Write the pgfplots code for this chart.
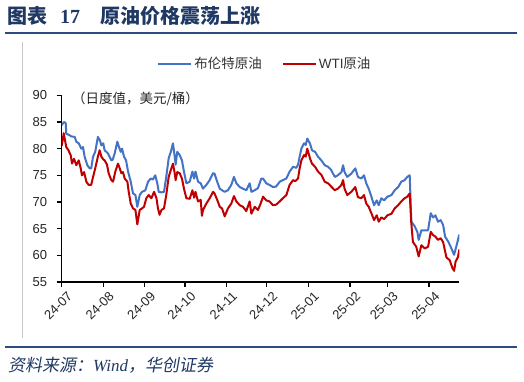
\documentclass[border=0pt]{standalone}
\usepackage{pgfplots}
\usepackage{pgfplotstable}
\pgfplotsset{compat=1.18}
\usepackage{fontspec}
\setmainfont{Liberation Sans}
\newfontfamily\cjk{Noto Sans CJK SC}
\newfontfamily\cjkit[FakeSlant=0.18]{Noto Sans CJK SC}
\newfontfamily\serif{Liberation Serif}
\definecolor{navy}{HTML}{1F3864}
\definecolor{rule}{HTML}{2B4C7E}
\definecolor{brent}{HTML}{4472C4}
\definecolor{wti}{HTML}{C00000}

\pgfplotstableread{
d v
0 84.4
1.7 85.0
3 84.8
3.4 82.8
6 82.5
7 82.3
9.7 82.2
10.9 81.3
12.7 81.0
14.6 80.0
15.9 80.3
17.1 78.5
19.1 76.9
20.9 76.3
22 76.3
23.4 78.5
25 79.4
27 82.2
28.6 81.5
29.6 80.6
31 81.0
32 79.7
34.5 79.1
37 77.8
38 77.9
39.5 79.1
41.5 81.3
42.5 80.5
44 79.4
45 80.0
46.5 78.5
48 77.8
49.5 75.7
51.5 73.8
53.2 71.6
55 71.3
56.4 69.1
58.2 71.3
59.9 71.9
62.4 72.2
64.4 73.8
66.4 74.4
68 74.2
69.8 75.0
71.3 73.5
72.4 71.9
74.4 71.8
76.3 71.9
78 74.7
79.8 78.2
81.5 79.5
83 81.0
84.3 78.5
85 77.0
86.2 79.4
88 78.8
89.7 77.8
91.2 75.7
93 73.5
95.5 73.8
97.5 75.7
98.8 74.4
99.8 75.7
101.7 73.8
103.7 73.5
105.4 72.5
107.9 73.2
110.4 74.1
112.9 75.4
114 75.3
116 73.8
117.9 72.5
119.6 72.2
121.6 71.9
124 72.2
126.5 73.2
128.5 74.7
130.3 73.5
132.8 72.8
135.2 72.5
137.7 72.2
140.2 73.5
141.5 71.9
144 72.2
146.4 72.6
148.9 74.4
150.2 74.4
152.6 73.5
155 73.2
157.6 72.8
160 72.9
162.6 73.8
165 74.1
167.6 74.4
170 75.7
172.6 76.6
175 76.4
176.3 77.0
177.5 78.5
178.8 80.0
180.8 81.0
182 80.7
183.2 81.9
185.3 80.9
186.7 79.7
189 79.4
191.2 78.5
193.7 77.8
196.2 76.9
198.7 76.6
201 76.0
203.7 74.7
206 75.0
208.7 75.6
209.9 76.9
211 75.6
213 74.7
216 75.3
219 76.3
221 74.7
223.5 74.4
225.5 75.0
227.2 73.5
229 72.5
231 71.0
233 69.4
235 70.3
236.5 69.4
238.4 70.7
240.5 70.3
243 71.0
246 71.3
248.4 72.2
251 72.8
253.3 73.8
255.8 74.1
257.8 74.7
259.6 75.0
260.8 66.3
263.2 65.5
265.3 64.4
266.3 62.9
268.3 64.7
270.8 64.7
273.3 64.7
275.3 67.9
277 67.1
278.8 67.5
280.7 66.3
282.7 66.6
284.5 65.7
286 63.5
288.5 62.5
290.7 61.3
292.7 60.1
294.2 61.5
296.6 63.9
}\brent

\pgfplotstableread{
d v
0 80.5
1.5 82.9
3.4 80.3
5 79.7
6.7 78.8
7.7 77.2
9.2 78.1
10.9 76.9
12.7 77.8
14.2 76.3
15.1 75.0
16.7 75.6
18.4 73.8
20.1 73.2
22 73.2
23.4 74.7
25 76.3
27 78.5
28.3 79.7
29.6 78.5
31 78.0
32 77.8
33.8 77.0
35 75.4
37 74.1
38.3 73.8
40 75.7
42 77.2
43.3 76.3
44.5 75.4
45.7 75.6
47 74.4
49 73.8
50 71.9
51.5 69.7
53.2 68.8
55 68.5
56.4 65.8
58.2 68.5
59.9 68.8
61.4 69.1
63.1 70.7
64.9 71.3
66.9 70.7
68.9 71.9
70.7 70.7
71.8 68.8
73 67.6
74.4 68.5
76.3 68.8
78 71.3
79.8 74.7
81.8 76.3
83 77.2
84.3 75.4
85 74.1
86.2 75.6
88 75.4
89.7 74.4
91.2 72.5
93 70.7
95.5 70.6
97.5 72.2
98.8 70.8
99.8 71.9
101.7 70.1
103.7 70.4
104.6 67.4
105.4 68.5
107.9 69.7
110.4 70.7
112.9 71.9
114 71.6
116 70.4
117.9 69.1
119.6 68.8
121.6 67.3
124 68.8
126.5 69.7
128.5 71.1
130.3 70.1
132.8 69.4
135.2 69.1
137.7 68.3
140.2 70.1
141.5 67.8
144 69.1
146.4 68.5
148.4 69.7
150.2 71.0
152.6 70.3
155 70.1
157.6 69.4
160 69.5
162.6 70.1
165 70.7
167.6 71.3
170 73.2
172.6 74.1
174.3 73.9
176.3 74.4
177.5 76.3
178.8 77.8
180.8 78.8
182 78.5
183.2 80.0
185.3 78.1
186.7 77.2
189 76.6
191.2 75.7
193.7 75.1
196.2 73.8
198.7 73.5
201 72.9
203.7 72.2
206 72.5
208.7 73.2
209.9 74.1
211 72.5
213 71.3
216 71.9
219 72.8
221 70.9
223.5 70.7
225.5 71.3
227.2 69.7
229 69.1
231 67.9
233 66.6
235 67.5
236.5 66.3
238.4 67.1
240.5 66.8
243 67.5
246 67.8
248.4 68.8
251 69.4
253.3 70.1
255.8 70.7
257.8 71.0
259.6 71.6
260.8 66.0
262 62.5
264.5 61.6
266.3 59.8
268.3 61.9
270.8 61.3
273.3 61.6
275.3 64.4
277 63.8
278.8 63.5
280.7 62.9
282.7 63.2
284.5 62.5
287 59.6
289.4 59.1
291.5 57.6
292.7 57.1
293.8 58.8
295.6 59.7
296.6 61.1
}\wti

\begin{document}
\begin{tikzpicture}[x=1pt,y=1pt]
\useasboundingbox (0,0) rectangle (524,382);
\fill[white] (0,0) rectangle (524,382);
% title
\node[anchor=base west, inner sep=0, text=navy] at (7,358) {\cjk\bfseries\fontsize{20}{24}\selectfont 图表};
\node[anchor=base west, inner sep=0, text=navy] at (60,358) {\serif\bfseries\fontsize{20}{24}\selectfont 17};
\node[anchor=base west, inner sep=0, text=navy] at (100,358) {\cjk\bfseries\fontsize{20}{24}\selectfont 原油价格震荡上涨};
\draw[rule, line width=2pt] (5,349) -- (517,349);
\draw[black!22, line width=0.8pt] (22,340) -- (22,44);
\draw[rule, line width=2pt] (5,35.3) -- (517,35.3);
\node[anchor=base west, inner sep=0, text=navy] at (8,10) {\fontsize{17}{20}\selectfont{\cjkit 资料来源：}{\serif\itshape Wind}{\cjkit ，华创证券}};
\begin{axis}[
  at={(61.7pt,100pt)}, anchor=south west,
  scale only axis, width=397.6pt, height=186.7pt,
  xmin=0, xmax=296.6, ymin=55, ymax=90,
  axis x line=bottom, axis y line=left,
  axis line style={-, line width=1.2pt, black},
  xtick={0,31,62,92,123,153,184,215,243,274},
  xticklabels={24-07,24-08,24-09,24-10,24-11,24-12,25-01,25-02,25-03,25-04},
  ytick={55,60,65,70,75,80,85,90},
  tick align=outside, major tick length=5pt,
  tick style={black, line width=1.2pt},
  /pgf/number format/assume math mode=true,
  yticklabel style={font=\fontsize{13}{15}\selectfont, text=black!85, xshift=-6pt},
  xticklabel style={font=\fontsize{13}{15}\selectfont, text=black!85, rotate=45, anchor=north east, inner sep=1pt, yshift=-5pt, xshift=2pt},
  legend style={at={(0.511,1.168)}, anchor=center, draw=none, fill=none,
    font=\fontsize{13.5}{16}\selectfont, text=black!80,
    /tikz/every even column/.append style={column sep=18pt}},
  legend columns=2,
  legend image code/.code={\draw[#1, line width=2pt] (0pt,0pt) -- (33pt,0pt);},
]
\addplot[brent, line width=2pt, line join=round] table[x=d, y=v] {\brent};
\addlegendentry{\cjk 布伦特原油}
\addplot[wti, line width=2pt, line join=round] table[x=d, y=v] {\wti};
\addlegendentry{WTI{\cjk 原油}}
\end{axis}
\node[anchor=west, inner sep=0, text=black!85, font=\fontsize{13.5}{16}\selectfont] at (72,283) {\cjk （日度值，美元/桶）};
\end{tikzpicture}
\end{document}
